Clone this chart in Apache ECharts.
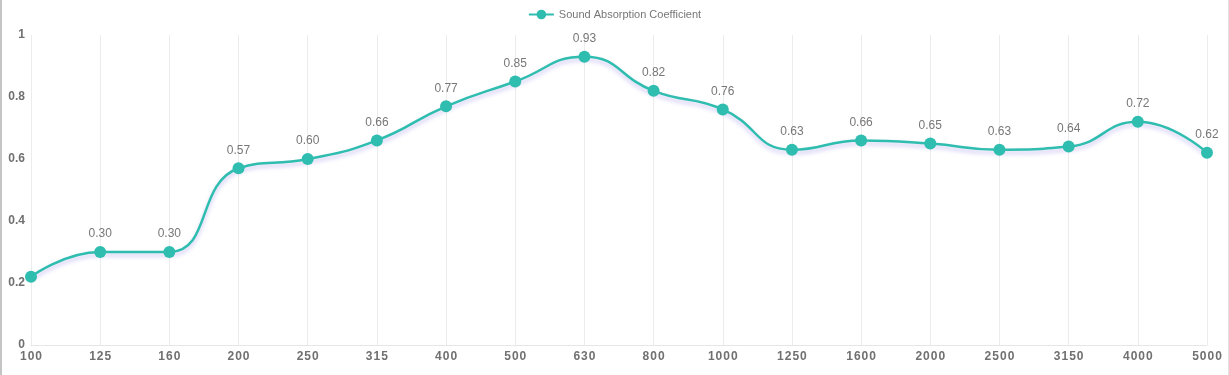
<!DOCTYPE html>
<html>
<head>
<meta charset="utf-8">
<script src="https://cdn.jsdelivr.net/npm/echarts@6/dist/echarts.min.js"></script>
<style>
html,body{margin:0;padding:0;background:#fff;}
#wrap{position:relative;width:1229px;height:375px;box-sizing:border-box;border-left:2px solid #c4c4c4;border-right:1px solid #e2e2e2;}
#chart{position:absolute;left:-2px;top:0;width:1229px;height:375px;}
</style>
</head>
<body>
<div id="wrap"><div id="chart"></div></div>
<script>
const categories = ['100','125','160','200','250','315','400','500','630','800','1000','1250','1600','2000','2500','3150','4000','5000'];
const values = [0.22,0.30,0.30,0.57,0.60,0.66,0.77,0.85,0.93,0.82,0.76,0.63,0.66,0.65,0.63,0.64,0.72,0.62];
const seriesName = 'Sound Absorption Coefficient';
const yTicks = { min: 0, max: 1, interval: 0.2 };

const chart = echarts.init(document.getElementById('chart'), null, { renderer: 'canvas' });
const color = '#2fbdaf';
chart.setOption({
  animation: false,
  legend: {
    top: 4, left: 'center',
    itemWidth: 25, itemHeight: 12,
    textStyle: { color: '#777', fontSize: 11, fontFamily: 'Liberation Sans, Arial, sans-serif' },
    data: [seriesName]
  },
  grid: { left: 31, right: 22, top: 35, bottom: 30, containLabel: false },
  xAxis: {
    type: 'category',
    boundaryGap: false,
    data: categories,
    axisLine: { show: true, lineStyle: { color: '#e6e6e6' } },
    axisTick: { show: false },
    splitLine: { show: true, lineStyle: { color: '#ececec' } },
    axisLabel: {
      color: '#707070', fontSize: 12, fontWeight: 'bold', margin: 6,
      fontFamily: 'Liberation Sans, Arial, sans-serif',
      formatter: v => v.split('').join('\u200A')
    }
  },
  yAxis: {
    type: 'value',
    min: yTicks.min, max: yTicks.max, interval: yTicks.interval,
    axisLine: { show: false },
    axisTick: { show: false },
    splitLine: { show: false },
    axisLabel: {
      color: '#707070', fontSize: 12, fontWeight: 'bold', margin: 6,
      fontFamily: 'Liberation Sans, Arial, sans-serif',
      formatter: v => String(Math.round(v * 10) / 10)
    }
  },
  series: [{
    name: seriesName,
    type: 'line',
    smooth: true,
    symbol: 'circle',
    symbolSize: 12,
    data: values.map((v, i) => i === 0 ? { value: v, label: { show: false } } : v),
    itemStyle: { color: color },
    lineStyle: { color: color, width: 2.5, shadowColor: 'rgba(110,90,220,0.35)', shadowBlur: 4, shadowOffsetY: 3 },
    label: {
      show: true, position: 'top', distance: 6,
      color: '#777', fontSize: 12, fontFamily: 'Liberation Sans, Arial, sans-serif',
      formatter: p => Number(p.value).toFixed(2)
    }
  }]
});
</script>
</body>
</html>
